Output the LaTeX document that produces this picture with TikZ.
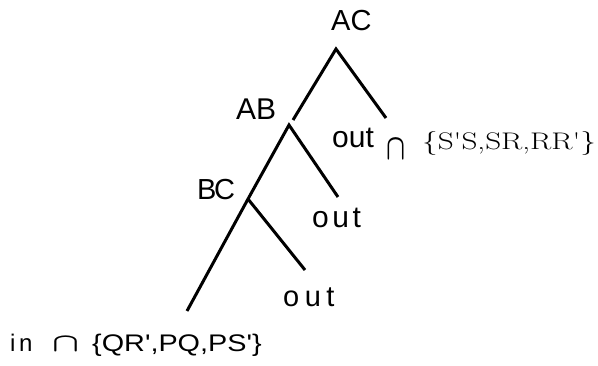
\documentclass[tikz,border=0pt]{standalone}
\usepackage{fontspec}
\usepackage{graphicx}
\setmainfont{Liberation Sans}
\newfontfamily\plainsans{Liberation Sans}[Ligatures=TeXOff]
\newfontfamily\lmserif{Latin Modern Roman}[Ligatures=TeXOff]
\tikzset{
  branch/.style={line width=3pt, black},
  lbl/.style={inner sep=0pt, anchor=base west},
}
\begin{document}
\begin{tikzpicture}[x=1pt,y=-1pt]
\useasboundingbox (0,0) rectangle (598,366);
% junction points and leaf ends
\coordinate (acTop) at (336,49);
\coordinate (acL) at (293,120);
\coordinate (acR) at (386,118);
\coordinate (abTop) at (289,125);
\coordinate (abR) at (338,197);
\coordinate (bcTop) at (248,199);
\coordinate (bcL) at (187,311);
\coordinate (bcR) at (305,270);
% branches
\draw[branch] (acL) -- (acTop) -- (acR);
\draw[branch] (bcL) -- (bcTop) -- (abTop) -- (abR);
\draw[branch] (bcTop) -- (bcR);
% labels
\node[lbl, font=\fontsize{29}{30}\selectfont] (tAC) at (331,31) {AC};
\node[lbl, font=\fontsize{30}{31}\selectfont] (tAB) at (236,120) {AB};
\node[lbl, font=\fontsize{29}{30}\selectfont] (tBC) at (197,200) {B\kern-2.5pt C};
\node[lbl, font=\fontsize{30}{31}\selectfont] (out1) at (332,148) {out};
\node[lbl] (cap1) at (386,160) {\scalebox{1.2}[1.75]{\fontsize{20}{20}\selectfont\boldmath$\cap$}};
\node[lbl] (set1) at (422,150) {\scalebox{1.3}[1]{\lmserif\fontsize{24}{24}\selectfont \{S'S,SR,RR'\}}};
\node[lbl, font=\fontsize{30}{31}\selectfont\addfontfeature{LetterSpace=12}] (out2) at (312,228) {out};
\node[lbl, font=\fontsize{29}{30}\selectfont\addfontfeature{LetterSpace=19}] (out3) at (283,307) {out};
\node[lbl, font=\fontsize{24}{25}\selectfont\addfontfeature{LetterSpace=15}] (tin) at (10,352) {in};
\node[lbl] (cap2) at (52,352) {\scalebox{1.7}[1.25]{\fontsize{20}{20}\selectfont\boldmath$\cap$}};
\node[lbl] (set2) at (92,352) {\scalebox{1.2}[1]{\plainsans\fontsize{24}{24}\selectfont \{QR',PQ,PS'\}}};
\end{tikzpicture}
\end{document}
